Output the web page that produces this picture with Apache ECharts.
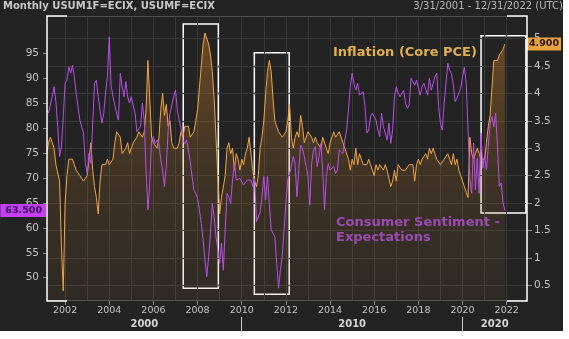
<!DOCTYPE html>
<html><head><meta charset="utf-8">
<script src="https://cdn.jsdelivr.net/npm/echarts@6/dist/echarts.min.js"></script>
<style>
html,body{margin:0;padding:0;background:#ffffff;}
#bg{position:absolute;left:0;top:0;width:563px;height:331px;background:#232323;}
#chart{position:absolute;left:0;top:0;width:569px;height:339px;}
</style></head><body>
<div id="bg"></div><div id="chart"></div>
<script>
// Monthly data, first month = March 2001, last = December 2021
const startYear = 2001, startMonth = 3;

// USUM1F=ECIX : 1-year inflation expectations (right axis, %)
const inflationExp = [
2.9,3.1,3.2,3.2,3.0,2.7,2.7,2.4,1.2,0.4,
2.0,2.5,2.8,2.8,2.8,2.7,2.6,2.6,2.5,2.5,
2.4,2.4,2.5,2.8,3.1,2.6,2.3,2.1,1.8,2.4,
2.7,2.7,2.7,2.8,2.7,2.7,2.8,3.1,3.3,3.3,
3.2,2.9,2.9,3.0,3.1,2.9,3.0,3.1,3.1,3.2,
3.3,3.3,3.2,3.3,3.7,4.6,3.9,3.2,3.1,3.1,
3.0,3.2,3.7,4.0,3.6,3.8,3.4,3.5,3.1,3.0,
3.0,3.0,3.1,3.3,3.2,3.4,3.4,3.4,3.2,3.2,
3.3,3.5,3.7,4.1,4.5,4.9,5.1,5.1,4.9,4.7,
4.4,3.9,3.2,2.5,1.8,2.1,2.1,2.5,3.0,3.1,
2.9,3.0,2.6,2.9,2.8,2.6,2.8,2.7,2.9,3.0,
3.2,3.2,2.6,2.4,2.3,2.5,3.0,3.2,3.5,4.0,
4.4,4.6,4.4,3.9,3.5,3.4,3.3,3.3,3.2,3.2,
3.3,3.5,3.8,3.2,3.0,3.2,3.3,3.2,3.6,3.4,
3.1,3.1,3.3,3.3,3.2,3.1,3.2,3.1,3.1,3.0,
3.2,3.2,3.0,2.9,3.1,3.2,3.3,3.2,3.2,3.3,
3.2,3.1,3.0,3.0,2.8,2.6,2.8,2.7,3.0,2.7,
2.9,2.8,2.7,2.7,2.7,2.8,2.7,2.6,2.5,2.7,
2.6,2.7,2.7,2.6,2.7,2.6,2.6,2.3,2.4,2.6,
2.4,2.7,2.7,2.6,2.6,2.6,2.6,2.7,2.7,2.7,
2.4,2.7,2.8,2.7,2.8,2.8,2.9,2.8,3.0,2.9,
3.0,2.9,2.8,2.8,2.7,2.7,2.8,2.8,2.9,2.8,
2.7,2.9,2.7,2.8,2.6,2.5,2.5,2.3,2.2,2.1,
3.2,2.9,2.8,2.9,3.0,2.9,2.8,2.8,2.8,3.1,
3.4,3.6,4.1,4.6,4.6,4.6,4.7,4.7,4.8,4.9
];

// USUMF=ECIX : consumer sentiment - expectations (left axis)
const consumerExp = [
83.6,83.0,83.0,86.3,88.3,85.3,80.3,74.3,76.3,82.3,
89.0,89.6,92.3,91.0,92.6,90.3,87.0,84.3,81.6,80.3,
79.0,72.9,70.9,74.9,72.9,72.9,89.0,89.6,86.3,83.6,
81.0,83.0,87.0,90.3,98.3,88.6,86.3,84.6,83.0,81.6,
91.0,88.3,86.3,89.3,86.3,85.0,86.3,84.6,83.0,79.3,
79.6,80.3,85.0,81.6,71.6,63.6,68.9,77.6,78.3,76.9,
77.6,76.9,73.6,71.6,68.3,72.3,79.6,83.0,84.6,86.3,
87.6,83.6,81.6,79.9,77.6,76.9,77.6,75.6,73.3,70.3,
67.6,66.9,65.9,63.6,60.9,57.6,53.6,50.2,54.2,58.9,
64.9,62.3,58.2,55.6,52.9,56.9,51.5,59.6,66.9,66.2,
64.9,69.6,72.9,69.6,69.3,69.9,70.3,68.6,68.9,69.6,
69.3,69.6,68.3,69.9,61.2,62.2,63.2,66.2,70.3,65.6,
70.3,64.9,59.6,59.6,58.2,52.9,47.9,51.5,54.2,59.6,
64.9,69.6,70.9,72.3,74.3,72.9,66.2,71.6,76.6,75.9,
74.3,72.3,70.3,64.6,72.9,75.6,76.3,72.3,74.3,76.9,
71.6,63.6,70.3,72.9,71.6,71.6,72.3,70.9,71.6,75.6,
75.3,74.9,77.6,79.6,83.6,88.3,91.0,89.0,87.6,89.0,
86.6,86.3,87.3,84.3,79.0,79.6,82.3,83.0,82.6,81.6,
79.6,78.3,83.0,80.3,79.0,77.6,81.0,76.9,79.6,86.3,
88.3,87.0,86.3,86.6,87.6,85.0,84.0,84.6,90.0,89.6,
88.6,89.6,90.0,86.6,88.3,89.0,89.0,86.6,90.0,87.6,
88.0,90.3,91.0,84.3,81.0,79.6,85.0,89.0,93.0,91.6,
91.0,88.6,85.3,86.0,86.3,88.0,90.3,92.2,89.0,79.6,
69.6,66.9,77.0,67.6,74.0,66.9,79.0,72.0,74.5,71.6,
76.3,81.0,82.3,80.3,83.0,76.3,68.3,69.0,65.0,63.5
];

const yearTicks = [2002,2004,2006,2008,2010,2012,2014,2016,2018,2020,2022];
const gridYears = [2002,2003,2004,2005,2006,2007,2008,2009,2010,2011,2012,2013,2014,2015,2016,2017,2018,2019,2020,2021,2022];
const leftTicks = [50,55,60,65,70,75,80,85,90,95];
const rightTicks = [0.5,1,1.5,2,2.5,3,3.5,4,4.5,5];
const decadeStarts = [2000,2010,2020];
const decadeLabels = ['2000','2010','2020'];
// highlight boxes: [xStart, yTop, xEnd, yBottom] in (year, left-axis) coordinates
const highlightBoxes = [
  [2007.35, 100.9, 2008.94, 47.9],
  [2010.57, 95.1, 2012.15, 46.7],
  [2020.84, 98.5, 2022.87, 63.0]
];

const X_MIN = 2001.18, X_MAX = 2022.92;
const Y_LEFT = [45.33, 102.48], Y_RIGHT = [0.2137, 5.411];
const monthPos = i => startYear + (startMonth - 1 + i) / 12;
const decadeCenters = decadeStarts.map(s => (Math.max(s, X_MIN) + Math.min(s + 10, X_MAX)) / 2);

const FONT = 'DejaVu Sans';
const chart = echarts.init(document.getElementById('chart'), null, {renderer: 'canvas'});

const infLast = inflationExp[inflationExp.length - 1];
const conLast = consumerExp[consumerExp.length - 1];
const GRID_COLOR = '#383838';
const hidden = {show: false};

chart.setOption({
  backgroundColor: 'transparent',
  animation: false,
  grid: {left: 47, right: 42, top: 16, bottom: 38, show: false},
  xAxis: [
    {
      type: 'value', min: X_MIN, max: X_MAX, position: 'bottom',
      axisLine: {show: false},
      axisTick: {show: true, customValues: yearTicks, length: 4, lineStyle: {color: '#8a8a8a'}},
      axisLabel: {customValues: yearTicks, color: '#c4c4c4', fontSize: 9.5, fontFamily: FONT, margin: 5, formatter: v => String(Math.round(v))},
      splitLine: {show: false}
    },
    {
      type: 'value', min: X_MIN, max: X_MAX, position: 'bottom', offset: 16,
      axisLine: {show: false},
      axisTick: {show: true, customValues: decadeStarts.filter(s => s > X_MIN && s < X_MAX), length: 15, lineStyle: {color: '#c8c8c8'}},
      axisLabel: {customValues: decadeCenters, color: '#d6d6d6', fontSize: 10, fontWeight: 'bold', fontFamily: FONT, margin: 2,
        formatter: v => {
          let best = 0;
          decadeCenters.forEach((c, k) => { if (Math.abs(c - v) < Math.abs(decadeCenters[best] - v)) best = k; });
          return decadeLabels[best];
        }},
      splitLine: {show: false}
    }
  ],
  yAxis: [
    {
      type: 'value', min: Y_LEFT[0], max: Y_LEFT[1], position: 'left',
      axisLine: {show: false},
      axisTick: {show: true, customValues: leftTicks, length: 4, lineStyle: {color: '#8a8a8a'}},
      axisLabel: {customValues: leftTicks, color: '#c4c4c4', fontSize: 10.5, fontFamily: FONT, margin: 8},
      splitLine: {show: false}
    },
    {
      type: 'value', min: Y_RIGHT[0], max: Y_RIGHT[1], position: 'right',
      axisLine: {show: false},
      axisTick: {show: true, customValues: rightTicks, length: 5, lineStyle: {color: '#8a8a8a'}},
      axisLabel: {customValues: rightTicks, color: '#c4c4c4', fontSize: 10.5, fontFamily: FONT, margin: 7, formatter: v => String(v)},
      splitLine: {show: false}
    }
  ],
  series: [
    {
      name: 'Inflation', type: 'line', xAxisIndex: 0, yAxisIndex: 1, clip: false,
      data: inflationExp.map((v, i) => [monthPos(i), v]),
      showSymbol: false, symbol: 'none',
      lineStyle: {color: '#f2a446', width: 1},
      areaStyle: {origin: 'start', color: new echarts.graphic.LinearGradient(0, 0, 0, 1, [
        {offset: 0, color: 'rgba(225,140,40,0.55)'},
        {offset: 0.5, color: 'rgba(190,125,45,0.27)'},
        {offset: 1, color: 'rgba(150,110,50,0.14)'}
      ])},
      z: 2,
      markLine: {
        silent: true, symbol: 'none', animation: false, z: 1,
        lineStyle: {color: GRID_COLOR, width: 1, type: 'solid'},
        label: hidden,
        data: rightTicks.map(v => ({yAxis: v}))
          .concat([{yAxis: infLast, lineStyle: {color: 'rgba(0,0,0,0)'},
            label: {show: true, position: 'end', distance: 0, formatter: infLast.toFixed(3),
              backgroundColor: '#e9a23f', color: '#2a1400', fontWeight: 'bold', fontSize: 9.5, fontFamily: FONT,
              padding: [2, 2, 1, 2]}}])
      }
    },
    {
      name: 'Expectations', type: 'line', xAxisIndex: 0, yAxisIndex: 0, clip: false,
      data: consumerExp.map((v, i) => [monthPos(i), v]),
      showSymbol: false, symbol: 'none',
      lineStyle: {color: '#b950e8', width: 1},
      z: 3,
      markLine: {
        silent: true, symbol: 'none', animation: false, z: 1,
        lineStyle: {color: GRID_COLOR, width: 1, type: 'solid'},
        label: hidden,
        data: gridYears.map(y => ({xAxis: y}))
          .concat([{yAxis: conLast, lineStyle: {color: 'rgba(0,0,0,0)'},
            label: {show: true, position: 'start', distance: 1, formatter: conLast.toFixed(3),
              backgroundColor: '#c23ff2', color: '#3e0856', fontWeight: 'bold', fontSize: 9.5, fontFamily: FONT,
              padding: [2, 4, 1, 5]}}])
      },
      markArea: {
        silent: true,
        itemStyle: {color: 'rgba(0,0,0,0)', borderColor: '#ffffff', borderWidth: 1.5},
        data: highlightBoxes.map(b => [{coord: [b[0], b[1]]}, {coord: [b[2], b[3]]}])
      }
    }
  ],
  graphic: [
    {type: 'line', z: 90, shape: {x1: 47, y1: 16.5, x2: 527, y2: 16.5}, style: {stroke: '#4e4e4e', lineWidth: 1}},
    {type: 'line', z: 90, shape: {x1: 47, y1: 300.5, x2: 527, y2: 300.5}, style: {stroke: '#565656', lineWidth: 1}},
    {type: 'polyline', z: 100, shape: {points: [[67, 16], [47, 16], [47, 301], [67, 301]]}, style: {stroke: '#ffffff', lineWidth: 1.5, fill: null}},
    {type: 'polyline', z: 100, shape: {points: [[507, 16], [527, 16], [527, 301], [507, 301]]}, style: {stroke: '#ffffff', lineWidth: 1.5, fill: null}},
    {type: 'text', left: 3, top: 1, z: 100, style: {text: 'Monthly USUM1F=ECIX, USUMF=ECIX', fill: '#c8c8c8', font: 'bold 10px "DejaVu Sans"'}},
    {type: 'text', right: 6, top: 1, z: 100, style: {text: '3/31/2001 - 12/31/2022 (UTC)', fill: '#b8b8b8', font: '10px "DejaVu Sans"'}},
    {type: 'text', left: 333, top: 46, z: 100, style: {text: 'Inflation (Core PCE)', fill: '#e2b04a', font: 'bold 13px "DejaVu Sans"'}},
    {type: 'text', left: 336, top: 215, z: 100, style: {text: 'Consumer Sentiment -\nExpectations', fill: '#9a4cb3', font: 'bold 13px "DejaVu Sans"', lineHeight: 15}}
  ]
});
</script>
</body></html>
